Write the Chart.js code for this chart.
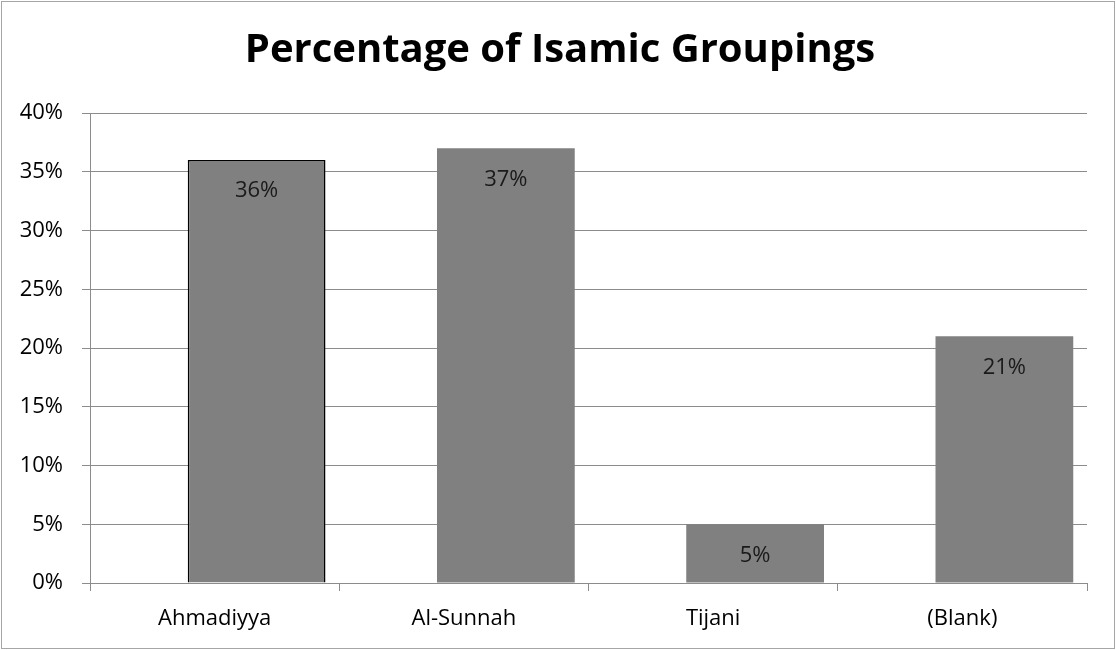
<!DOCTYPE html>
<html>
<head>
<meta charset="utf-8">
<script src="https://cdn.jsdelivr.net/npm/chart.js@4/dist/chart.umd.min.js"></script>
<style>
  html, body { margin: 0; padding: 0; background: #fff; }
  #wrap { width: 1116px; height: 650px; }
</style>
</head>
<body>
<div id="wrap"><canvas id="groupChart"></canvas></div>
<script>
const groups = ['Ahmadiyya', 'Al-Sunnah', 'Tijani', '(Blank)'];
const emptySeries = [null, null, null, null];
const shares = [36, 37, 5, 21];
const yTicks = [0, 5, 10, 15, 20, 25, 30, 35, 40];
const chartTitle = 'Percentage of Isamic Groupings';

const FONT = '"Open Sans", "Noto Sans", sans-serif';

// white page, thin grey frame and the centred title
const frame = {
  id: 'frame',
  beforeDraw(chart) {
    const c = chart.ctx;
    c.save();
    c.fillStyle = '#fff';
    c.fillRect(0, 0, chart.width, chart.height);
    c.strokeStyle = '#a6a6a6';
    c.lineWidth = 1;
    c.strokeRect(1.5, 1.5, chart.width - 3, chart.height - 3);
    c.font = 'bold 40px ' + FONT;
    c.fillStyle = '#000';
    c.textAlign = 'center';
    c.textBaseline = 'alphabetic';
    c.fillText(chartTitle, chart.width / 2 + 2, 62);
    c.restore();
  }
};

// value labels just inside the top of each bar
const barLabels = {
  id: 'barLabels',
  afterDatasetsDraw(chart) {
    const c = chart.ctx;
    const meta = chart.getDatasetMeta(1);
    c.save();
    c.font = '22px ' + FONT;
    c.fillStyle = '#1a1a1a';
    c.textAlign = 'center';
    c.textBaseline = 'middle';
    meta.data.forEach((bar, i) => {
      c.fillText(shares[i] + '%', bar.x, bar.y + 31);
    });
    c.restore();
  }
};

new Chart(document.getElementById('groupChart'), {
  type: 'bar',
  data: {
    labels: groups,
    datasets: [
      {
        // first series slot is empty, so the bars sit right of centre
        data: emptySeries,
        backgroundColor: 'rgba(0,0,0,0)',
        barPercentage: 1.64,
        categoryPercentage: 0.674
      },
      {
        data: shares,
        backgroundColor: '#808080',
        borderColor: '#000',
        borderWidth: [1.5, 0, 0, 0],
        borderSkipped: 'bottom',
        barPercentage: 1.64,
        categoryPercentage: 0.674
      }
    ]
  },
  options: {
    responsive: true,
    maintainAspectRatio: false,
    animation: false,
    layout: { padding: { left: 0, right: 29, top: 113, bottom: 0 } },
    plugins: {
      legend: { display: false },
      tooltip: { enabled: false },
      title: { display: false }
    },
    scales: {
      x: {
        grid: {
          offset: true,
          drawOnChartArea: false,
          drawTicks: true,
          tickLength: 8,
          color: '#8c8c8c'
        },
        border: { color: '#8c8c8c', width: 1 },
        ticks: {
          color: '#000',
          padding: 15,
          font: { family: FONT, size: 22 }
        },
        afterFit(scale) { scale.height = 67; }
      },
      y: {
        min: 0,
        max: 40,
        afterBuildTicks(scale) {
          scale.ticks = yTicks.map(v => ({ value: v }));
        },
        grid: {
          color: '#8c8c8c',
          tickLength: 8
        },
        border: { color: '#8c8c8c', width: 1 },
        ticks: {
          color: '#000',
          padding: 19,
          font: { family: FONT, size: 22 },
          callback: v => v + '%'
        },
        afterFit(scale) { scale.width = 90; }
      }
    }
  },
  plugins: [frame, barLabels]
});
</script>
</body>
</html>
